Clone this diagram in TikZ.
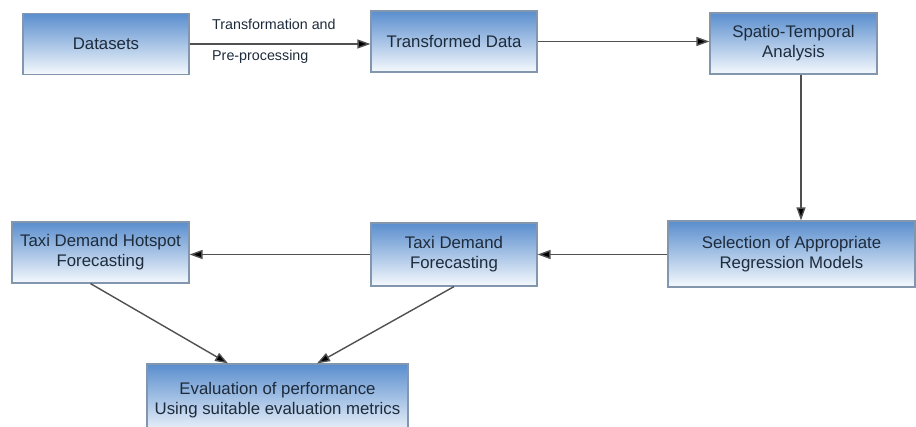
\documentclass[tikz,border=0pt]{standalone}
\usepackage{fontspec}
\setmainfont{Liberation Sans}
\usetikzlibrary{arrows.meta,calc}
\definecolor{boxtop}{HTML}{5A8ECE}
\definecolor{boxbot}{HTML}{F5F9FD}
\definecolor{boxline}{HTML}{8296AE}
\definecolor{txt}{HTML}{1E2B3B}
\definecolor{arrline}{HTML}{505050}
\tikzset{
  box/.style={draw=boxline, line width=1.2pt, top color=boxtop, bottom color=boxbot,
    align=center, text=txt, inner sep=2pt, font=\fontsize{16.8}{20}\selectfont},
  arr/.style={draw=arrline, line width=1.4pt, -{Triangle[length=13pt,width=9pt,fill=black]}},
  lbl/.style={inner sep=0pt, anchor=west, text=txt, font=\fontsize{14.3}{16}\selectfont}
}
\begin{document}
\begin{tikzpicture}[x=1pt,y=-1pt]
\useasboundingbox (0,0) rectangle (916,427);
\node[box, minimum width=166pt, minimum height=61pt] (ds) at (106,44) {Datasets};
\node[box, minimum width=166pt, minimum height=61pt] (td) at (454,41.5) {Transformed Data};
\node[box, minimum width=167pt, minimum height=61pt] (sp) at (793.5,43.5) {Spatio-Temporal\\Analysis};
\node[box, minimum width=247pt, minimum height=66pt] (sel) at (791.5,254) {Selection of Appropriate\\Regression Models};
\node[box, minimum width=166pt, minimum height=63pt] (tdf) at (454,254.5) {Taxi Demand\\Forecasting};
\node[box, minimum width=177pt, minimum height=61pt] (hs) at (100.5,252.5) {Taxi Demand Hotspot\\Forecasting};
\node[box, minimum width=261pt, minimum height=72pt] (ev) at (277.5,400) {Evaluation of performance\\Using suitable evaluation metrics};
\node[lbl] (l1) at (212,24) {Transformation and};
\node[lbl] (l2) at (212,57) {Pre-processing};
\draw[arr] (ds.east) -- (ds.east -| td.west);
\draw[arr] (td.east) -- (td.east -| sp.west);
\draw[arr] ([xshift=7.5pt]sp.south) -- ([xshift=7.5pt]sp.south |- sel.north);
\draw[arr] (sel.west |- tdf) -- (tdf.east);
\draw[arr] (tdf.west) -- (tdf.west -| hs.east);
\draw[arr] ([xshift=-10pt]hs.south) -- ([xshift=-49.5pt]ev.north);
\draw[arr] (tdf.south) -- ([xshift=39.5pt]ev.north);
\end{tikzpicture}
\end{document}
